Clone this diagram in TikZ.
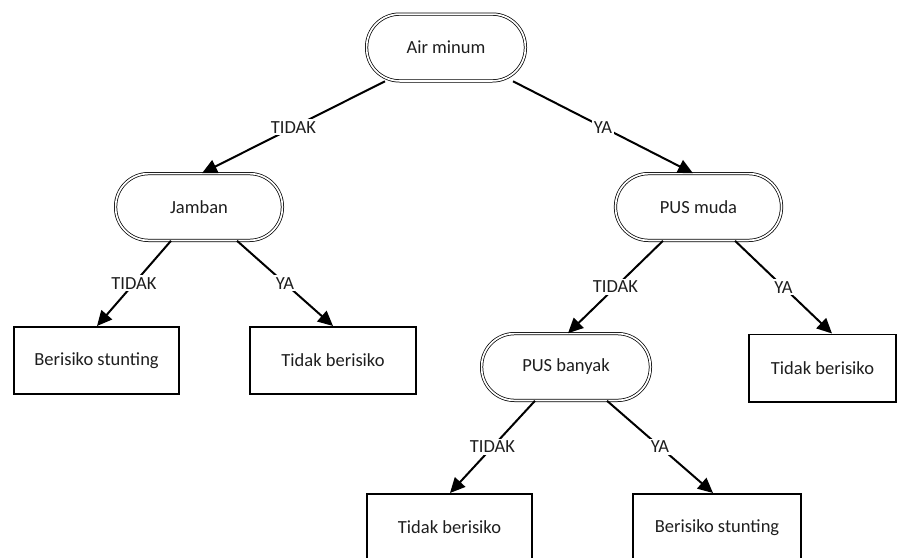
\documentclass[tikz,border=0pt]{standalone}
\usepackage{fontspec}
\setmainfont{Carlito}
\usetikzlibrary{arrows.meta}
\definecolor{ink}{RGB}{30,30,30}
\begin{document}
\begin{tikzpicture}[x=1pt,y=-1pt,
  every node/.style={font=\fontsize{18.5}{22}\selectfont, text=ink},
  decision/.style={draw=black, line width=0.75pt, double=white, double distance=1.7pt,
    rounded corners=33pt, minimum width=#1, minimum height=66.8pt, inner sep=0pt},
  leaf/.style={draw=black, line width=1.8pt, minimum width=#1, minimum height=67.2pt, inner sep=0pt},
  link/.style={draw=black, line width=2pt, -{Triangle[length=15pt,width=14pt]}},
  answer/.style={midway, fill=white, inner sep=2pt}]
\useasboundingbox (0,0) rectangle (904,557);
\begin{scope}
\clip (0,0) rectangle (904,557);
% decision nodes
\node[decision=158.8pt] (air) at (446,47.5) {Air minum};
\node[decision=166.8pt] (jamban) at (199,207) {Jamban};
\node[decision=166pt] (pusmuda) at (698.5,207) {PUS muda};
\node[decision=168.8pt] (pusbanyak) at (566,367) {PUS banyak};
% outcome boxes
\node[leaf=165.2pt] (bs1) at (96.5,360.5) {Berisiko stunting};
\node[leaf=166.2pt] (tb1) at (333,360.5) {Tidak berisiko};
\node[leaf=147.2pt] (tb2) at (822.5,368) {Tidak berisiko};
\node[leaf=165.2pt] (tb3) at (449.5,527.5) {Tidak berisiko};
\node[leaf=168.2pt] (bs2) at (717,527.5) {Berisiko stunting};
% branches
\draw[link] ([xshift=-61pt]air.south) -- ([xshift=3pt]jamban.north) node[answer] {TIDAK};
\draw[link] ([xshift=67pt]air.south) -- ([xshift=-5.5pt]pusmuda.north) node[answer] {YA};
\draw[link] ([xshift=-28pt]jamban.south) -- ([xshift=0.5pt]bs1.north) node[answer] {TIDAK};
\draw[link] ([xshift=38pt]jamban.south) -- (tb1.north) node[answer] {YA};
\draw[link] ([xshift=-35.5pt]pusmuda.south) -- ([xshift=2pt]pusbanyak.north) node[answer] {TIDAK};
\draw[link] ([xshift=36.5pt]pusmuda.south) -- ([xshift=9.5pt]tb2.north) node[answer] {YA};
\draw[link] ([xshift=-31pt]pusbanyak.south) -- ([xshift=0.5pt]tb3.north) node[answer] {TIDAK};
\draw[link] ([xshift=41pt]pusbanyak.south) -- ([xshift=-4pt]bs2.north) node[answer] {YA};
\end{scope}
\end{tikzpicture}
\end{document}
